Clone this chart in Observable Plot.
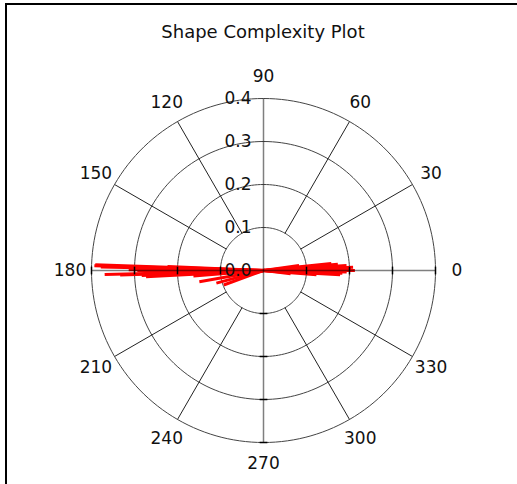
<!DOCTYPE html>
<html>
<head>
<meta charset="utf-8">
<script src="https://cdn.jsdelivr.net/npm/d3@7"></script>
<script src="https://cdn.jsdelivr.net/npm/@observablehq/plot@0.6"></script>
<style>
  html, body { margin: 0; padding: 0; background: #fff; overflow: hidden; }
  #wrap { position: relative; width: 517px; height: 484px; }
  #frame { position: absolute; left: 5px; top: 3px; width: 520px; height: 490px;
           border-top: 2px solid #000; border-left: 2px solid #000; box-sizing: border-box; }
  #title { width: 517px; box-sizing: border-box; padding-left: 9px; height: 60px; padding-top: 22px;
           line-height: 20px; text-align: center; font-family: "DejaVu Sans", sans-serif; font-size: 18px; color: #111; }
  #chart { position: absolute; left: 0; top: 60px; }
</style>
</head>
<body>
<div id="wrap">
  <div id="frame"></div>
  <div id="title">Shape Complexity Plot</div>
  <div id="chart"></div>
</div>
<script>
// Data: line directions (degrees) and lengths (radius units)
const angles = [178.0, 178.4, 178.8, 179.3, 179.7, 180.0, 180.4, 180.8, 181.4, 181.8, 182.4, 183.0, 177.6, 184.5, 190.0, 195.0, 200.0,
                0.0, 1.0, 2.0, 3.5, 4.8, 6.0, -1.0, -2.0, -3.2, -4.5, 8.0, -7.0];
const radii  = [0.388, 0.390, 0.375, 0.300, 0.310, 0.290, 0.260, 0.250, 0.366, 0.330, 0.280, 0.270, 0.220, 0.160, 0.148, 0.110, 0.095,
                0.209, 0.200, 0.205, 0.190, 0.170, 0.155, 0.190, 0.180, 0.175, 0.120, 0.080, 0.060];
const ringValues = [0.1, 0.2, 0.3, 0.4];
const radialLabels = ["0.0", "0.1", "0.2", "0.3", "0.4"];
const angleTicks = [0, 30, 60, 90, 120, 150, 180, 210, 240, 270, 300, 330];
const angleLabels = ["0", "30", "60", "90", "120", "150", "180", "210", "240", "270", "300", "330"];
const rMax = 0.4;
const labelR = 0.45;

const rad = d => d * Math.PI / 180;
const lines = angles.map((a, i) => ({a, r: radii[i]}));
const ringPts = ringValues.flatMap(r => d3.range(0, 361, 2).map(t => ({r, x: r * Math.cos(rad(t)), y: r * Math.sin(rad(t))})));
const spokes = angleTicks.filter(a => a % 90 !== 0).map(a => ({a}));
const tickLabels = angleTicks.map((a, i) => ({a, label: angleLabels[i]}));
const radLab = radialLabels.map((l, i) => ({v: i * 0.1, label: l}));
const axisTicks = ringValues.flatMap(r => [r, -r]);

const font = "DejaVu Sans, sans-serif";
const chart = Plot.plot({
  width: 517, height: 424,
  marginLeft: 91, marginRight: 82, marginTop: 38, marginBottom: 42,
  x: {domain: [-rMax, rMax], axis: null},
  y: {domain: [-rMax, rMax], axis: null},
  style: {fontFamily: font, background: "transparent"},
  marks: [
    Plot.line(ringPts, {x: "x", y: "y", z: "r", stroke: "#444", strokeWidth: 1}),
    Plot.link(spokes, {x1: d => 0.1 * Math.cos(rad(d.a)), y1: d => 0.1 * Math.sin(rad(d.a)),
                       x2: d => rMax * Math.cos(rad(d.a)), y2: d => rMax * Math.sin(rad(d.a)),
                       stroke: "#222", strokeWidth: 1}),
    Plot.link(lines, {x1: 0, y1: 0, x2: d => d.r * Math.cos(rad(d.a)), y2: d => d.r * Math.sin(rad(d.a)),
                      stroke: "#ff0000", strokeWidth: 3, strokeLinecap: "square"}),
    Plot.link([{x1: -rMax, y1: 0, x2: rMax, y2: 0}, {x1: 0, y1: -rMax, x2: 0, y2: rMax}],
              {x1: "x1", y1: "y1", x2: "x2", y2: "y2", stroke: "#000", strokeOpacity: 0.5, strokeWidth: 1.5}),
    Plot.link(axisTicks, {x1: d => d, x2: d => d, y1: -0.009, y2: 0.009, stroke: "#000", strokeWidth: 1.5}),
    Plot.link(axisTicks.filter(d => d < 0), {y1: d => d, y2: d => d, x1: -0.009, x2: 0.009, stroke: "#000", strokeWidth: 1.5}),
    Plot.text(tickLabels, {x: d => labelR * Math.cos(rad(d.a)), y: d => labelR * Math.sin(rad(d.a)), text: "label",
                           fontSize: 17, fill: "#111", textAnchor: "middle", lineAnchor: "middle"}),
    Plot.text(radLab, {x: 0, y: "v", text: "label", fontSize: 17, fill: "#111", textAnchor: "end", lineAnchor: "middle", dx: -12})
  ]
});
document.getElementById("chart").appendChild(chart);
</script>
</body>
</html>
